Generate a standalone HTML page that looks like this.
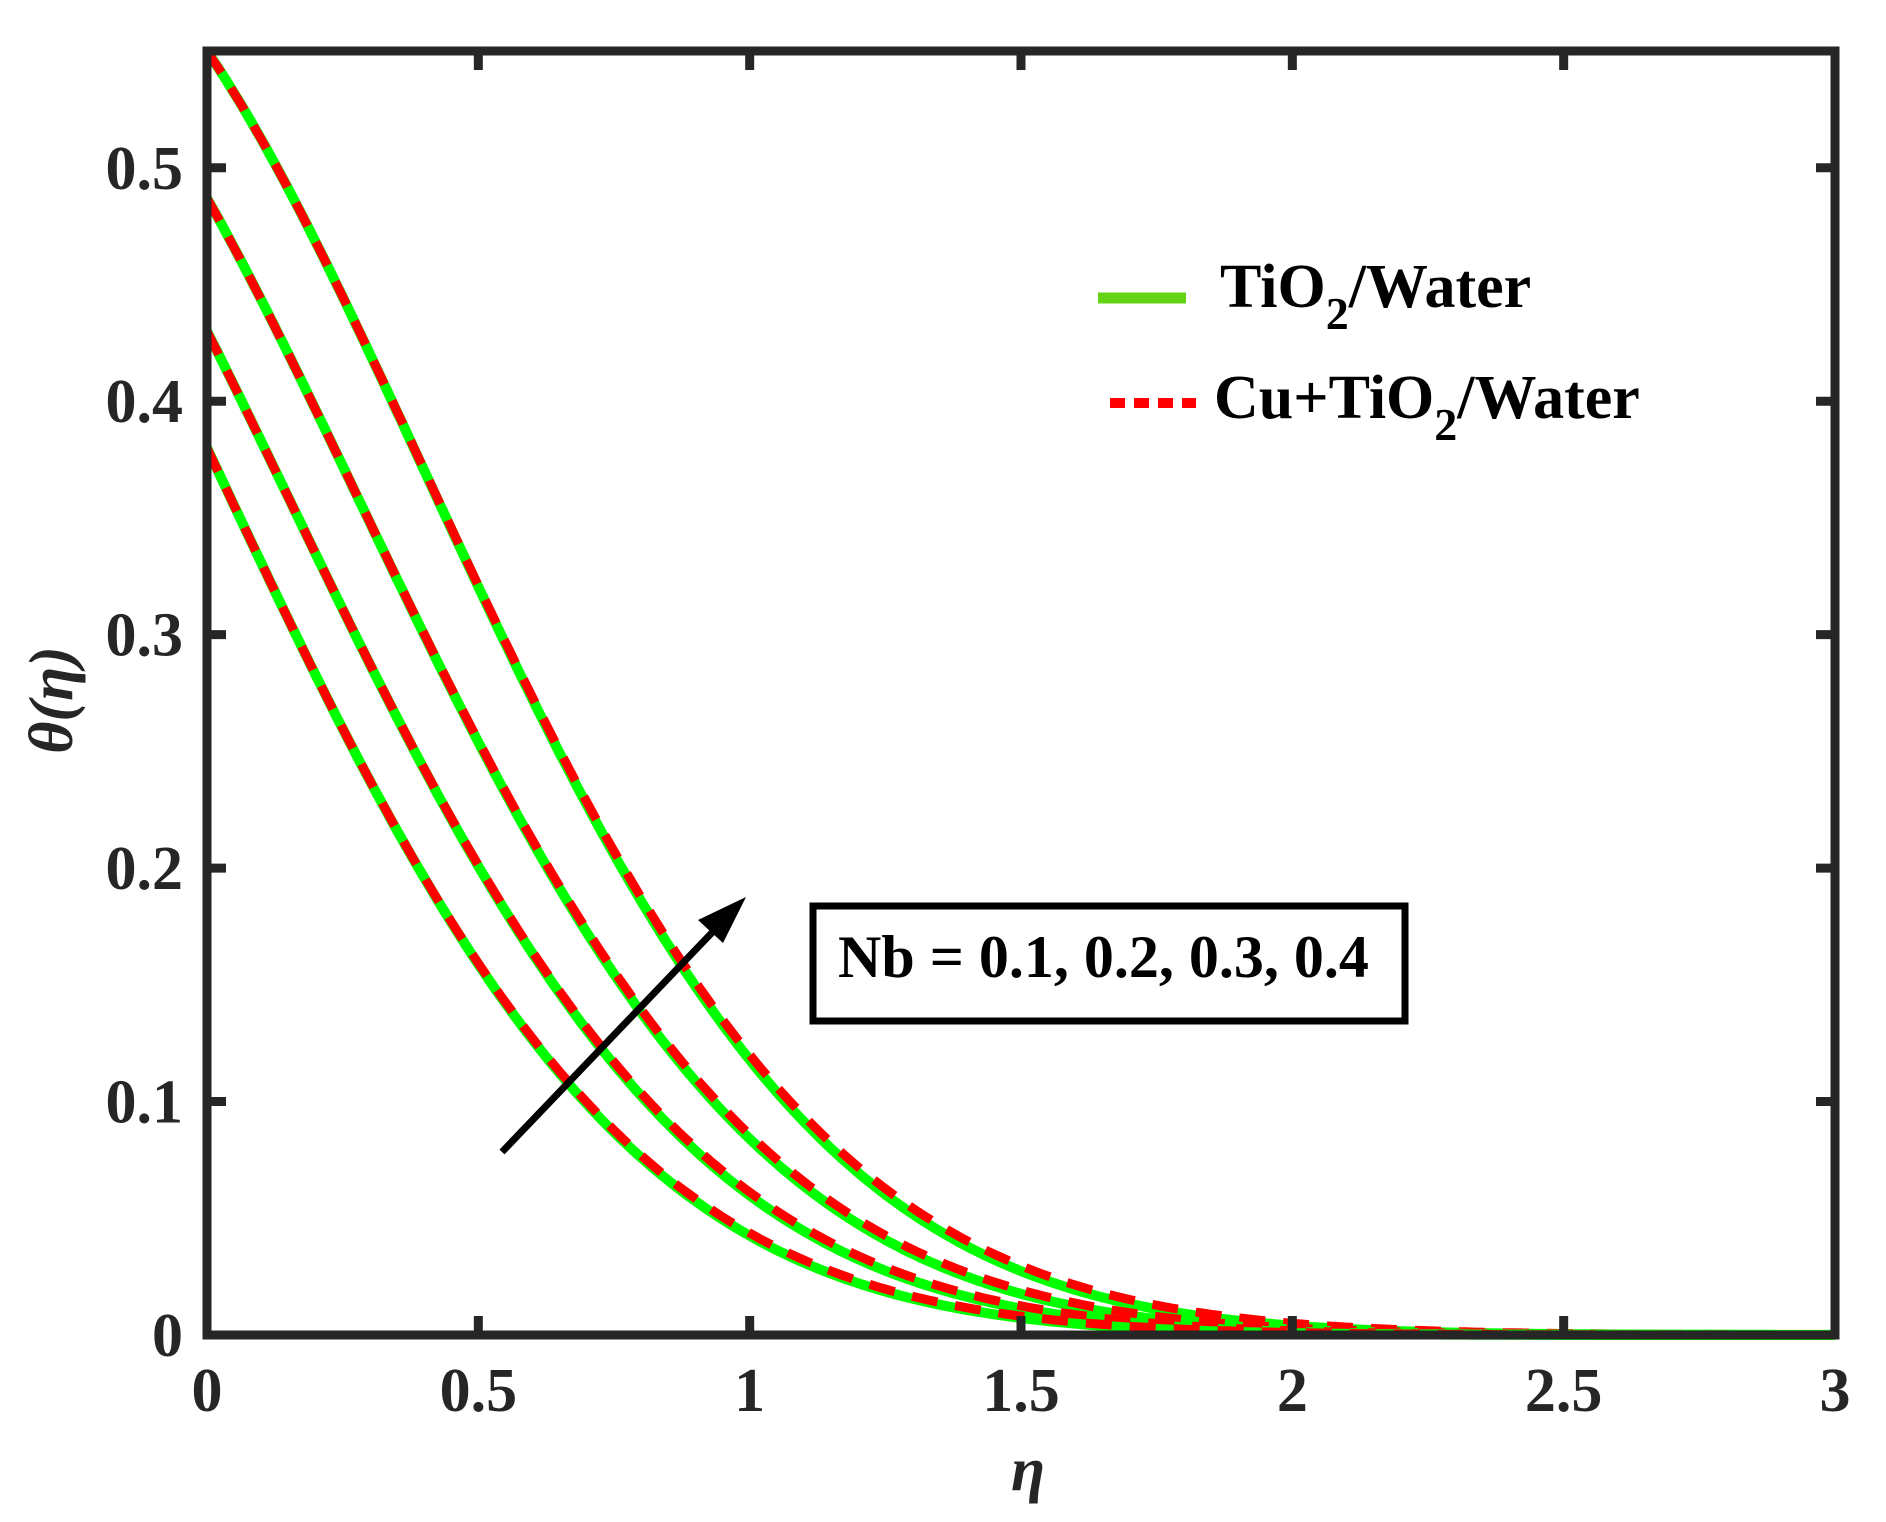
<!DOCTYPE html>
<html><head><meta charset="utf-8"><style>html,body{margin:0;padding:0;background:#fff}svg{display:block}</style></head>
<body>
<svg width="1886" height="1522" viewBox="0 0 1886 1522" xmlns="http://www.w3.org/2000/svg" font-family="'Liberation Serif', serif" font-weight="bold">
<rect width="1886" height="1522" fill="#fff"/>
<g id="curves" fill="none" stroke-width="9"></g>
<g stroke="#262626" stroke-width="9" fill="none">
<rect x="207" y="51" width="1628" height="1284"/>
</g>
<g id="ticks" stroke="#262626" stroke-width="9"></g>
<g id="labels" fill="#262626" font-size="62"></g>
<text x="0" y="0" font-size="62" font-style="italic" fill="#262626" transform="translate(72,700) rotate(-90)" text-anchor="middle">θ(η)</text>
<text x="1028" y="1490" font-size="62" font-style="italic" fill="#262626" text-anchor="middle">η</text>
<line x1="1098" y1="298" x2="1186" y2="298" stroke="#63d414" stroke-width="11"/>
<text x="1220" y="307" font-size="62" fill="#000">TiO<tspan font-size="46" dy="22">2</tspan><tspan dy="-22">/Water</tspan></text>
<line x1="1110" y1="403" x2="1196" y2="403" stroke="#ff0000" stroke-width="10" stroke-dasharray="15 9"/>
<text x="1214" y="418" font-size="62" fill="#000">Cu+TiO<tspan font-size="46" dy="22">2</tspan><tspan dy="-22">/Water</tspan></text>
<rect x="813" y="906" width="592" height="115" fill="#fff" stroke="#000" stroke-width="7"/>
<text x="838" y="977" font-size="60" fill="#000">Nb = 0.1, 0.2, 0.3, 0.4</text>
<line x1="502" y1="1152" x2="725" y2="919" stroke="#000" stroke-width="7"/>
<polygon points="746,897 698,920 723,943" fill="#000"/>
<script>
var X=function(e){return 207+e*542.67}, Y=function(v){return 1335-v*2334.5};
var ns="http://www.w3.org/2000/svg";
var P=[[0.55,0.62,0.92],[0.487,0.847,0.91],[0.43,1.073,0.90],[0.38,1.30,0.89]];
var g=document.getElementById('curves');
P.forEach(function(p,i){
 ['g','r'].forEach(function(t){
  var d='';
  for(var k=0;k<=300;k++){var e=k/100;var sh=(t=='r')?1+0.012*e*e:1;var v=p[0]*Math.exp(-(p[1]*e+p[2]*e*e)/sh);
   d+=(k?'L':'M')+X(e).toFixed(1)+','+Y(v).toFixed(1);}
  var pa=document.createElementNS(ns,'path');pa.setAttribute('d',d);
  if(t=='g'){pa.setAttribute('stroke','#00ff00');pa.setAttribute('stroke-width','10');}
  else{pa.setAttribute('stroke','#ff0000');pa.setAttribute('stroke-width','9');pa.setAttribute('stroke-dasharray','26 18');}
  g.appendChild(pa);
 });
});
var tk=document.getElementById('ticks'),lb=document.getElementById('labels');
function ln(a,b,c,d){var l=document.createElementNS(ns,'line');l.setAttribute('x1',a);l.setAttribute('y1',b);l.setAttribute('x2',c);l.setAttribute('y2',d);tk.appendChild(l);}
function tx(x,y,s,anc){var t=document.createElementNS(ns,'text');t.setAttribute('x',x);t.setAttribute('y',y);t.setAttribute('text-anchor',anc);t.textContent=s;lb.appendChild(t);}
for(var i=0;i<=6;i++){var e=i*0.5,x=X(e);ln(x,1335,x,1316);ln(x,51,x,70);tx(x,1411,String(e),'middle');}
for(var i=0;i<=5;i++){var v=i/10,y=Y(v);ln(207,y,226,y);ln(1835,y,1816,y);tx(183,y+21,i==0?'0':v.toFixed(1),'end');}
</script>
</svg>
</body></html>
